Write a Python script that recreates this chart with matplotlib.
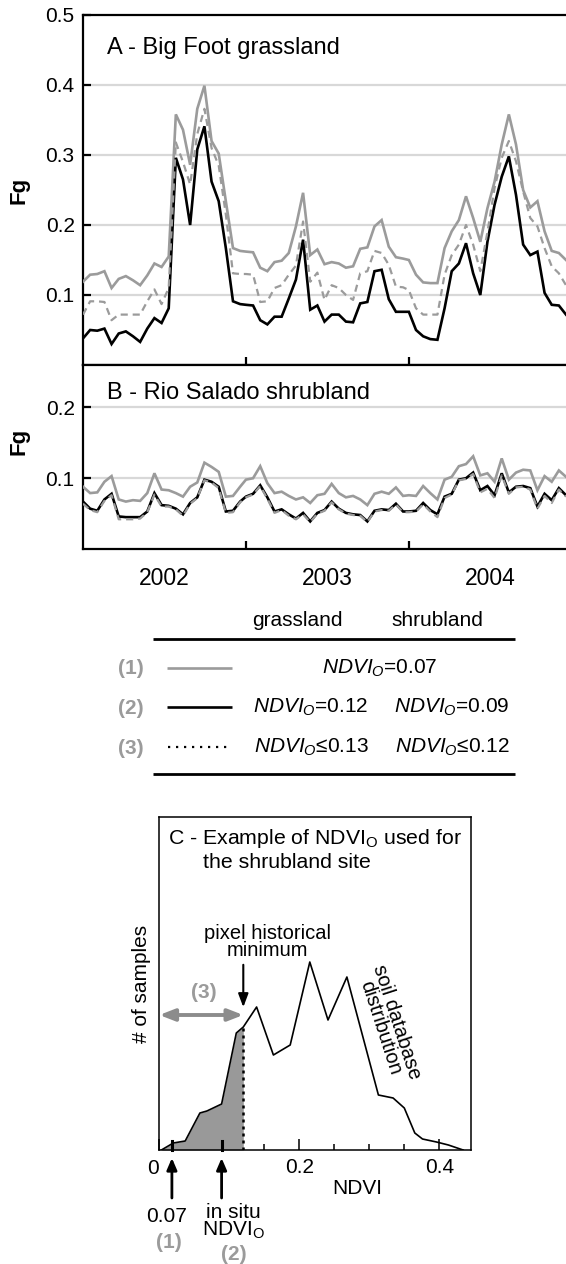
import matplotlib
matplotlib.use("Agg")
import matplotlib.pyplot as plt
from matplotlib.ticker import FixedLocator, FixedFormatter, NullFormatter

plt.rcParams['font.family'] = ['Liberation Sans', 'DejaVu Sans']
plt.rcParams['mathtext.fontset'] = 'custom'
plt.rcParams['mathtext.rm'] = 'Liberation Sans'
plt.rcParams['mathtext.it'] = 'Liberation Sans:italic'
plt.rcParams['mathtext.bf'] = 'Liberation Sans:bold'

# ---------------- data ----------------
years = [2002, 2003, 2004]
composite_doy = list(range(1, 366, 16))          # MODIS 16-day composites (23 / year)
time = [y + (d - 1) / 365.0 for y in years for d in composite_doy]

# Panel A - Big Foot grassland
grass_ndvio_007 = [0.119, 0.129, 0.130, 0.134, 0.110, 0.123, 0.127, 0.121, 0.114, 0.128, 0.145, 0.140,
                   0.155, 0.358, 0.336, 0.286, 0.366, 0.399, 0.320, 0.302, 0.234, 0.167, 0.163, 0.162,
                   0.161, 0.139, 0.134, 0.147, 0.149, 0.160, 0.198, 0.246, 0.157, 0.165, 0.144, 0.147,
                   0.145, 0.139, 0.141, 0.166, 0.168, 0.198, 0.207, 0.169, 0.154, 0.152, 0.150, 0.129,
                   0.118, 0.117, 0.117, 0.167, 0.191, 0.207, 0.241, 0.210, 0.176, 0.224, 0.262, 0.315,
                   0.358, 0.315, 0.250, 0.225, 0.234, 0.191, 0.163, 0.160, 0.150]
grass_ndvio_012 = [0.038, 0.050, 0.049, 0.052, 0.030, 0.045, 0.048, 0.041, 0.033, 0.052, 0.067, 0.060,
                   0.081, 0.296, 0.265, 0.200, 0.308, 0.341, 0.262, 0.234, 0.167, 0.091, 0.087, 0.086,
                   0.085, 0.064, 0.058, 0.069, 0.069, 0.095, 0.122, 0.179, 0.079, 0.085, 0.062, 0.072,
                   0.072, 0.062, 0.061, 0.088, 0.090, 0.134, 0.136, 0.094, 0.076, 0.076, 0.076, 0.050,
                   0.041, 0.037, 0.036, 0.081, 0.134, 0.145, 0.174, 0.131, 0.100, 0.176, 0.229, 0.269,
                   0.298, 0.243, 0.172, 0.157, 0.162, 0.103, 0.086, 0.085, 0.072]
grass_ndvio_le013 = [0.072, 0.091, 0.091, 0.090, 0.064, 0.072, 0.072, 0.072, 0.072, 0.091, 0.108, 0.087,
                     0.110, 0.318, 0.290, 0.258, 0.330, 0.366, 0.310, 0.285, 0.215, 0.131, 0.130, 0.130,
                     0.129, 0.090, 0.091, 0.110, 0.114, 0.129, 0.142, 0.205, 0.119, 0.132, 0.093, 0.114,
                     0.110, 0.100, 0.093, 0.131, 0.134, 0.163, 0.160, 0.143, 0.112, 0.111, 0.107, 0.081,
                     0.072, 0.072, 0.072, 0.129, 0.157, 0.172, 0.200, 0.172, 0.134, 0.190, 0.253, 0.296,
                     0.320, 0.291, 0.248, 0.210, 0.198, 0.167, 0.141, 0.131, 0.114]

# Panel B - Rio Salado shrubland
shrub_ndvio_007 = [0.088, 0.079, 0.080, 0.095, 0.103, 0.070, 0.067, 0.069, 0.068, 0.079, 0.107, 0.084,
                   0.083, 0.079, 0.074, 0.088, 0.094, 0.122, 0.116, 0.109, 0.074, 0.075, 0.088, 0.098,
                   0.100, 0.117, 0.093, 0.079, 0.081, 0.075, 0.070, 0.073, 0.065, 0.076, 0.078, 0.092,
                   0.079, 0.073, 0.075, 0.070, 0.062, 0.078, 0.081, 0.078, 0.087, 0.075, 0.076, 0.075,
                   0.089, 0.079, 0.070, 0.098, 0.102, 0.117, 0.120, 0.131, 0.104, 0.107, 0.095, 0.128,
                   0.098, 0.108, 0.112, 0.111, 0.083, 0.103, 0.095, 0.111, 0.102]
shrub_ndvio_009 = [0.067, 0.057, 0.054, 0.070, 0.078, 0.046, 0.045, 0.045, 0.045, 0.053, 0.079, 0.062,
                   0.061, 0.057, 0.049, 0.065, 0.073, 0.098, 0.095, 0.088, 0.053, 0.054, 0.067, 0.074,
                   0.078, 0.090, 0.073, 0.053, 0.056, 0.049, 0.043, 0.051, 0.039, 0.051, 0.055, 0.067,
                   0.057, 0.051, 0.049, 0.048, 0.039, 0.054, 0.056, 0.055, 0.064, 0.053, 0.053, 0.054,
                   0.065, 0.055, 0.049, 0.074, 0.078, 0.098, 0.100, 0.108, 0.083, 0.089, 0.076, 0.107,
                   0.080, 0.088, 0.089, 0.086, 0.060, 0.078, 0.069, 0.086, 0.076]
shrub_ndvio_le012 = [0.064, 0.055, 0.052, 0.068, 0.076, 0.042, 0.042, 0.042, 0.043, 0.052, 0.077, 0.060,
                     0.060, 0.056, 0.047, 0.064, 0.072, 0.097, 0.094, 0.086, 0.051, 0.052, 0.066, 0.073,
                     0.077, 0.089, 0.071, 0.051, 0.055, 0.047, 0.042, 0.049, 0.038, 0.050, 0.054, 0.066,
                     0.056, 0.050, 0.048, 0.047, 0.038, 0.053, 0.055, 0.054, 0.063, 0.052, 0.052, 0.053,
                     0.063, 0.053, 0.045, 0.072, 0.077, 0.097, 0.099, 0.106, 0.080, 0.085, 0.072, 0.104,
                     0.078, 0.087, 0.088, 0.084, 0.057, 0.075, 0.065, 0.084, 0.074]

fg_ticks_a = [0.1, 0.2, 0.3, 0.4, 0.5]
fg_ticks_b = [0.1, 0.2]
year_labels = ['2002', '2003', '2004']

# Panel C - soil database NDVI distribution
soil_ndvi = [0.003, 0.020, 0.037, 0.058, 0.068, 0.089, 0.110, 0.120, 0.139, 0.163, 0.187,
             0.215, 0.241, 0.268, 0.313, 0.334, 0.350, 0.365, 0.376, 0.396, 0.413, 0.434]
soil_samples = [0, 7, 9, 37, 39, 46, 117, 123, 143, 95, 105,
                188, 130, 173, 55, 52, 42, 17, 11, 8, 5, 0]
ndvio_const = 0.018      # position of the "0.07" arrow as drawn
ndvio_insitu = 0.089
ndvio_pixmin = 0.12

GRAY = '#9b9b9b'
GRID = '#d8d8d8'
FS = 15

W, H = 566, 1264
fig = plt.figure(figsize=(W / 100, H / 100), dpi=100)

def fx(px):
    return px / W

def fy(py):
    return 1 - py / H

def ts_axes(top, bottom):
    ax = fig.add_axes([fx(83), fy(bottom), fx(566) - fx(83), (bottom - top) / H])
    ax.spines['right'].set_visible(False)
    for s in ['left', 'top', 'bottom']:
        ax.spines[s].set_linewidth(1.6)
    ax.set_xlim(time[0], time[-1])
    ax.xaxis.set_major_locator(FixedLocator([2003, 2004]))
    ax.xaxis.set_major_formatter(NullFormatter())
    ax.tick_params(axis='both', which='major', direction='in', length=6, width=1.6,
                   labelsize=FS, pad=6)
    return ax

def draw_series(ax, s1, s2, s3):
    ax.plot(time, s1, color=GRAY, lw=1.9, zorder=3, solid_joinstyle='miter')
    ax.plot(time, s2, color='black', lw=1.9, zorder=4, solid_joinstyle='miter')
    ax.plot(time, s3, color=GRAY, lw=1.6, ls=(0, (3.2, 2.2)), zorder=5)

# Panel A
axA = ts_axes(15, 365)
axA.set_ylim(0, 0.5)
for g in fg_ticks_a[:-1]:
    axA.axhline(g, color=GRID, lw=1.6, zorder=1)
draw_series(axA, grass_ndvio_007, grass_ndvio_012, grass_ndvio_le013)
axA.yaxis.set_major_locator(FixedLocator(fg_ticks_a))
axA.yaxis.set_major_formatter(FixedFormatter([f'{v:.1f}' for v in fg_ticks_a]))
axA.text(0.049, 0.889, 'A - Big Foot grassland', transform=axA.transAxes, fontsize=17,
         va='baseline', ha='left')

# Panel B
axB = ts_axes(365, 549)
axB.set_ylim(0, 0.26)
for g in fg_ticks_b:
    axB.axhline(g, color=GRID, lw=1.6, zorder=1)
draw_series(axB, shrub_ndvio_007, shrub_ndvio_009, shrub_ndvio_le012)
axB.yaxis.set_major_locator(FixedLocator(fg_ticks_b))
axB.yaxis.set_major_formatter(FixedFormatter([f'{v:.1f}' for v in fg_ticks_b]))
axB.xaxis.set_minor_locator(FixedLocator([int(y) + 0.5 for y in year_labels]))
axB.xaxis.set_minor_formatter(FixedFormatter(year_labels))
axB.tick_params(axis='x', which='minor', length=0, labelsize=16.5, pad=13)
axB.text(0.049, 0.815, 'B - Rio Salado shrubland', transform=axB.transAxes, fontsize=17,
         va='baseline', ha='left')

fig.text(fx(19), fy(190), 'Fg', rotation=90, fontsize=16, fontweight='bold', va='center', ha='center')
fig.text(fx(19), fy(441), 'Fg', rotation=90, fontsize=16, fontweight='bold', va='center', ha='center')

# ---------------- legend table (pixel overlay) ----------------
ov = fig.add_axes([0, 0, 1, 1])
ov.set_xlim(0, W)
ov.set_ylim(H, 0)
ov.axis('off')
ov.patch.set_visible(False)

ov.text(297, 620, 'grassland', fontsize=FS, ha='center', va='center')
ov.text(437, 620, 'shrubland', fontsize=FS, ha='center', va='center')
ov.plot([153, 515], [639, 639], color='black', lw=2.0, solid_capstyle='butt')
ov.plot([153, 515], [774, 774], color='black', lw=2.0, solid_capstyle='butt')
rows_y = [668, 707, 747]
for lab, yy in zip(['(1)', '(2)', '(3)'], rows_y):
    ov.text(131, yy + 1, lab, fontsize=FS, fontweight='bold', color=GRAY, ha='center', va='center')
ov.plot([167, 232], [rows_y[0], rows_y[0]], color=GRAY, lw=1.9, solid_capstyle='butt')
ov.plot([167, 232], [rows_y[1], rows_y[1]], color='black', lw=1.9, solid_capstyle='butt')
ov.plot([168, 228], [rows_y[2], rows_y[2]], color='black', lw=1.6, ls=(0, (1, 2.6)))
ov.text(380, rows_y[0], r'$NDVI_O$=0.07', fontsize=FS, ha='center', va='center')
ov.text(311, rows_y[1], r'$NDVI_O$=0.12', fontsize=FS, ha='center', va='center')
ov.text(452, rows_y[1], r'$NDVI_O$=0.09', fontsize=FS, ha='center', va='center')
ov.text(311, rows_y[2], r'$NDVI_O$≤0.13', fontsize=FS, ha='center', va='center')
ov.text(452, rows_y[2], r'$NDVI_O$≤0.12', fontsize=FS, ha='center', va='center')

# ---------------- panel C ----------------
C_LEFT, C_RIGHT, C_TOP, C_BOTTOM = 159.3, 471, 817, 1150
axC = fig.add_axes([fx(C_LEFT), fy(C_BOTTOM), fx(C_RIGHT) - fx(C_LEFT), (C_BOTTOM - C_TOP) / H])
for s in axC.spines.values():
    s.set_linewidth(1.1)
axC.set_xlim(0, (C_RIGHT - C_LEFT) / 700.0)
axC.set_ylim(0, 333)
axC.set_yticks([])
axC.xaxis.set_major_locator(FixedLocator([0, 0.2, 0.4]))
axC.xaxis.set_major_formatter(FixedFormatter(['', '0.2', '0.4']))
axC.xaxis.set_minor_locator(FixedLocator([0.05, 0.1, 0.15, 0.25, 0.3, 0.35]))
axC.tick_params(axis='x', which='major', direction='in', length=8, width=1.1, labelsize=FS, pad=6)
axC.tick_params(axis='x', which='minor', direction='in', length=4.5, width=1.1)
axC.text(-0.0095, -18, '0', fontsize=FS, ha='center', va='center', clip_on=False)

axC.plot(soil_ndvi, soil_samples, color='black', lw=1.2, zorder=4)
shade_x = [x for x in soil_ndvi if x <= ndvio_pixmin]
shade_y = soil_samples[:len(shade_x)]
axC.fill_between(shade_x, shade_y, 0, color='#999999', zorder=2, lw=0)
axC.plot([ndvio_pixmin, ndvio_pixmin], [0, shade_y[-1]], color='black', lw=1.8,
         ls=(0, (1.2, 1.6)), zorder=5)

axC.set_ylabel('# of samples', fontsize=FS, labelpad=6)
axC.text(0.028, 0.934, r'C - Example of NDVI$_\mathrm{O}$ used for', transform=axC.transAxes,
         fontsize=15.3, ha='left', va='center')
axC.text(0.14, 0.862, 'the shrubland site', transform=axC.transAxes, fontsize=15.3,
         ha='left', va='center')
axC.text(0.155, 208, 'pixel historical\nminimum', fontsize=FS - 0.5, ha='center', va='center',
         linespacing=0.85)
axC.annotate('', xy=(ndvio_pixmin, 140), xytext=(ndvio_pixmin, 188),
             arrowprops=dict(arrowstyle='-|>,head_length=0.8,head_width=0.3', color='black', lw=1.5))
axC.text(0.064, 157, '(3)', fontsize=FS, fontweight='bold', color=GRAY, ha='center', va='center')
axC.annotate('', xy=(0.0, 135), xytext=(ndvio_pixmin, 135),
             arrowprops=dict(arrowstyle='<|-|>,head_length=0.9,head_width=0.35', color='#8c8c8c',
                             lw=2.8, shrinkA=0, shrinkB=0))
axC.text(0.328, 125, 'soil database\ndistribution', fontsize=FS - 0.5, rotation=-72,
         ha='center', va='center', linespacing=0.85, rotation_mode='anchor')

for xa in [ndvio_const, ndvio_insitu]:
    axC.annotate('', xy=(xa, -8), xytext=(xa, -48), annotation_clip=False,
                 arrowprops=dict(arrowstyle='-|>,head_length=0.7,head_width=0.3', color='black',
                                 lw=2.0, shrinkA=0, shrinkB=0))
    axC.plot([xa, xa], [0, 9], color='black', lw=2.2, zorder=6, clip_on=False)
axC.text(0.011, -66, '0.07', fontsize=FS, ha='center', va='center', clip_on=False)
axC.text(0.013, -92, '(1)', fontsize=FS, fontweight='bold', color=GRAY, ha='center', va='center')
axC.text(0.106, -62, 'in situ', fontsize=FS, ha='center', va='center')
axC.text(0.106, -80, r'NDVI$_\mathrm{O}$', fontsize=FS, ha='center', va='center')
axC.text(0.106, -105, '(2)', fontsize=FS, fontweight='bold', color=GRAY, ha='center', va='center')
axC.text(0.283, -38, 'NDVI', fontsize=FS, ha='center', va='center')

fig.savefig('out.png', dpi=100)
